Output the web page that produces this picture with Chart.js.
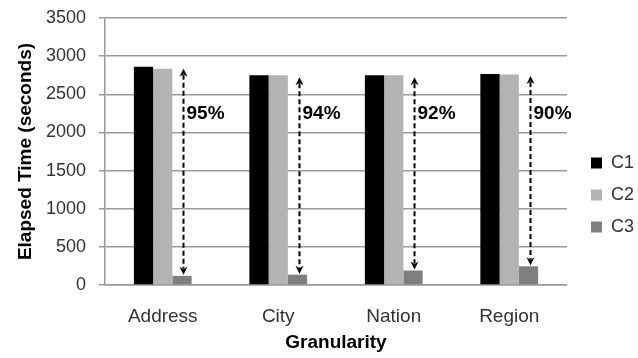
<!DOCTYPE html>
<html>
<head>
<meta charset="utf-8">
<script src="https://cdn.jsdelivr.net/npm/chart.js@4/dist/chart.umd.min.js"></script>
<style>
  html, body { margin: 0; padding: 0; background: #fff; }
  #wrap { width: 638px; height: 358px; }
</style>
</head>
<body>
<div id="wrap"><canvas id="c" width="638" height="358"></canvas></div>
<script>
var categories = ["Address", "City", "Nation", "Region"];
var c1Values = [2860, 2750, 2750, 2765];
var c2Values = [2835, 2750, 2750, 2760];
var c3Values = [120, 135, 190, 245];
var reductionLabels = ["95%", "94%", "92%", "90%"];
var yTicks = [0, 500, 1000, 1500, 2000, 2500, 3000, 3500];

var LABEL_LEVEL = 2250;
var FONT = "'Liberation Sans', Arial, sans-serif";

function arrowHead(ctx, x, tipY, dir) {
    // dir = 1 points up, -1 points down
    ctx.beginPath();
    ctx.moveTo(x, tipY);
    ctx.lineTo(x + 4, tipY + dir * 8);
    ctx.lineTo(x, tipY + dir * 5.5);
    ctx.lineTo(x - 4, tipY + dir * 8);
    ctx.closePath();
    ctx.fill();
}

// dashed double arrows from the C1 top down to the C3 bar, with % labels
var arrowPlugin = {
    id: "arrows",
    afterDatasetsDraw: function (chart) {
        var ctx = chart.ctx;
        var y = chart.scales.y;
        var meta = chart.getDatasetMeta(2);
        ctx.save();
        meta.data.forEach(function (bar, i) {
            var x = Math.round(bar.x + 1.5) + 0.5;
            var yTop = y.getPixelForValue(c1Values[i]) + 2;
            var yBot = bar.y - 1;
            ctx.strokeStyle = "#000";
            ctx.fillStyle = "#000";
            ctx.lineWidth = 2;
            ctx.setLineDash([5, 3]);
            ctx.beginPath();
            ctx.moveTo(x, yTop + 6);
            ctx.lineTo(x, yBot - 6);
            ctx.stroke();
            ctx.setLineDash([]);
            arrowHead(ctx, x, yTop, 1);
            arrowHead(ctx, x, yBot, -1);
            ctx.font = "bold 19px " + FONT;
            ctx.textAlign = "left";
            ctx.textBaseline = "middle";
            ctx.fillText(reductionLabels[i], x + 3, y.getPixelForValue(LABEL_LEVEL));
        });
        ctx.restore();
    }
};

// nudge the legend block to match the reference placement
var legendShift = {
    id: "legendShift",
    afterLayout: function (chart) {
        var lg = chart.legend;
        var dx = 577 - lg.left;
        lg.left += dx; lg.right += dx;
        lg.top += 7; lg.bottom += 7;
    }
};

new Chart(document.getElementById("c"), {
    type: "bar",
    data: {
        labels: categories,
        datasets: [
            { label: "C1", data: c1Values, backgroundColor: "#000000" },
            { label: "C2", data: c2Values, backgroundColor: "#b3b3b3" },
            { label: "C3", data: c3Values, backgroundColor: "#7f7f7f" }
        ]
    },
    options: {
        responsive: false,
        animation: false,
        devicePixelRatio: 1,
        layout: { padding: { top: 18, right: 4, bottom: 0, left: 0 } },
        datasets: { bar: { categoryPercentage: 0.5, barPercentage: 1.0, borderWidth: 0 } },
        plugins: {
            legend: {
                position: "right",
                align: "center",
                labels: {
                    boxWidth: 11, boxHeight: 11, padding: 14,
                    color: "#333", font: { family: FONT, size: 18 }
                }
            },
            tooltip: { enabled: false }
        },
        scales: {
            x: {
                grid: { display: false, drawTicks: false },
                border: { display: true, color: "#9a9a9a", width: 1.5 },
                ticks: { color: "#333", font: { family: FONT, size: 19 }, padding: 20 },
                title: {
                    display: true, text: "Granularity", color: "#000",
                    font: { family: FONT, size: 19, weight: "bold" },
                    padding: { top: 4, bottom: 4 }
                },
                afterFit: function (s) { s.height = 73; }
            },
            y: {
                min: 0, max: 3500,
                afterBuildTicks: function (s) {
                    s.ticks = yTicks.map(function (v) { return { value: v }; });
                },
                grid: { color: "#9a9a9a", lineWidth: 1.5, tickLength: 6 },
                border: { display: true, color: "#9a9a9a", width: 1.5 },
                ticks: {
                    color: "#333", font: { family: FONT, size: 18 }, padding: 13,
                    callback: function (v) { return String(v); }
                },
                title: {
                    display: true, text: "Elapsed Time (seconds)", color: "#000",
                    font: { family: FONT, size: 19, weight: "bold" },
                    padding: { top: 14, bottom: 4 }
                },
                afterFit: function (s) {
                    s.width = 105;
                    s.paddingTop = 11;
                    s.paddingBottom = 11;
                }
            }
        }
    },
    plugins: [arrowPlugin, legendShift]
});
</script>
</body>
</html>
